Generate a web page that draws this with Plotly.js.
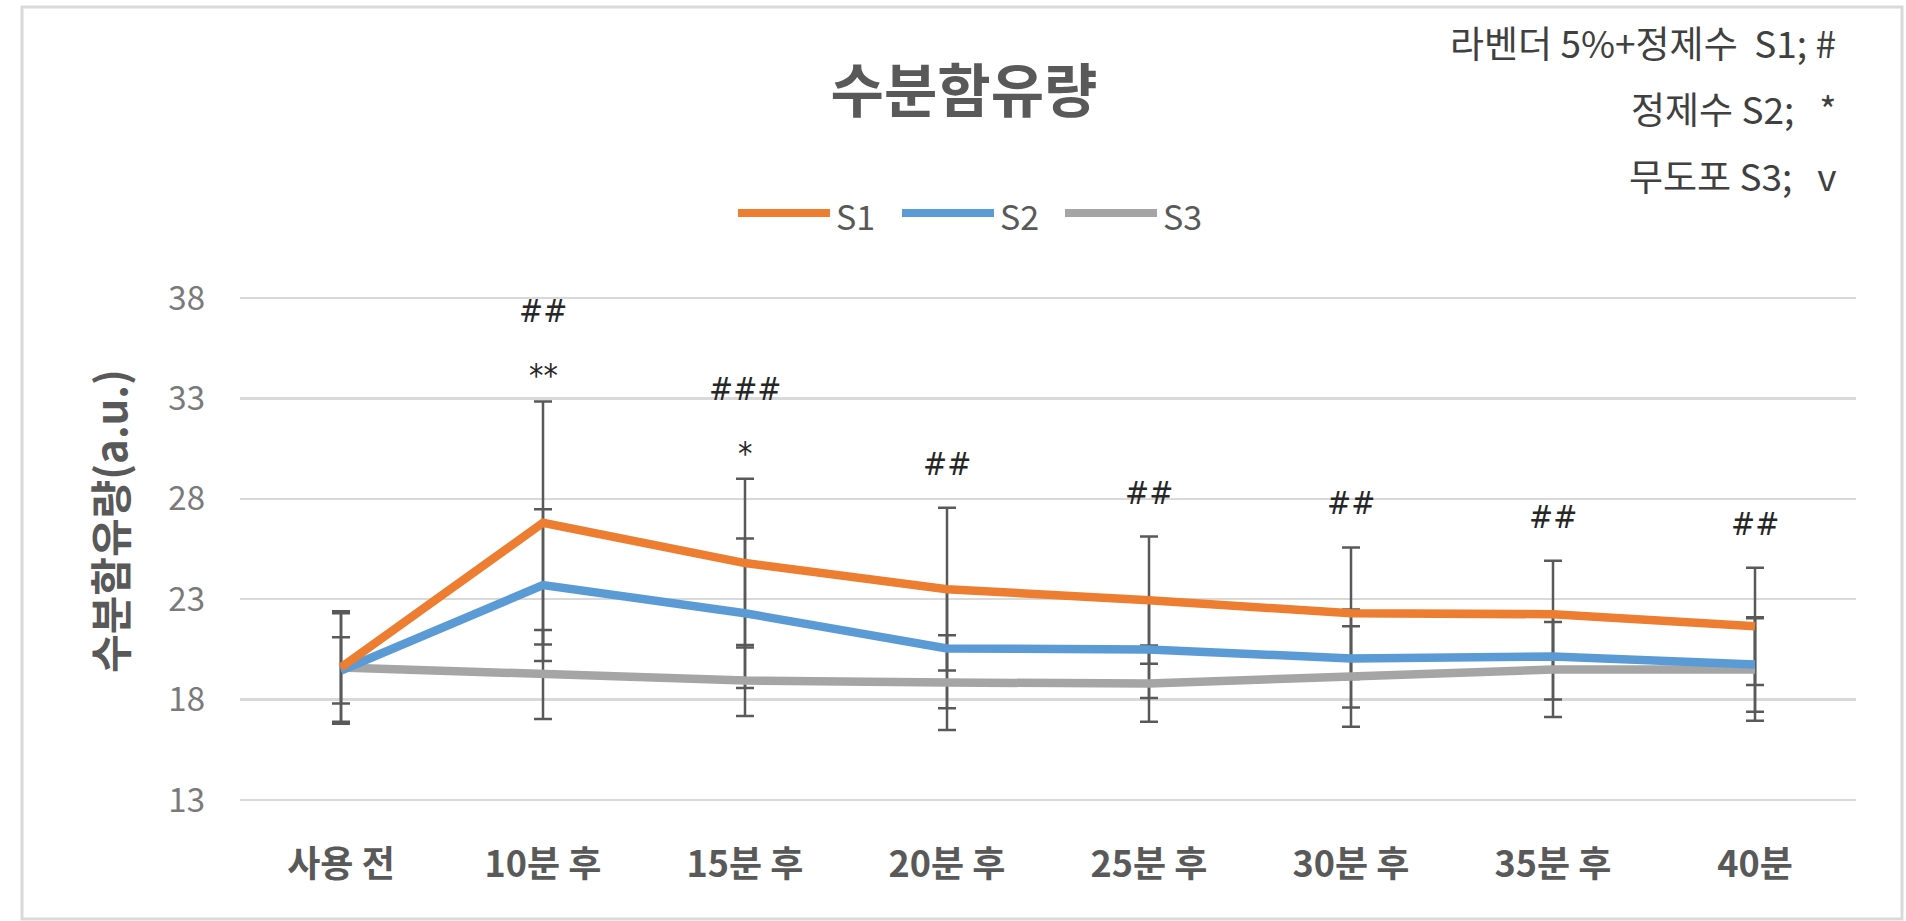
<!DOCTYPE html>
<html>
<head>
<meta charset="utf-8">
<script src="https://cdn.plot.ly/plotly-3.0.1.min.js"></script>
<style>html,body{margin:0;padding:0;background:#fff;}#chart{width:1906px;height:921px;}</style>
</head>
<body>
<div id="chart"></div>
<script>
// ---- data ----
const categories = ['사용 전', '10분 후', '15분 후', '20분 후', '25분 후', '30분 후', '35분 후', '40분'];
const seriesNames = ['S1', 'S2', 'S3'];
const s1 = [19.6, 26.8, 24.8, 23.5, 22.95, 22.3, 22.25, 21.65];
const s1err = [2.8, 6.05, 4.2, 4.05, 3.17, 3.28, 2.67, 2.92];
const s2 = [19.45, 23.7, 22.3, 20.55, 20.5, 20.05, 20.15, 19.75];
const s2err = [1.65, 3.78, 3.72, 2.98, 2.42, 2.44, 2.14, 2.35];
const s3 = [19.6, 19.25, 18.95, 18.85, 18.8, 19.15, 19.5, 19.5];
const s3err = [2.7, 2.22, 1.77, 2.36, 1.9, 2.5, 2.37, 2.55];
const sigHash = ['', '##', '###', '##', '##', '##', '##', '##'];
const sigStar = ['', '**', '*', '', '', '', '', ''];
const noteLines = ['라벤더 5%+정제수\u00A0\u00A0S1;\u00A0#', '정제수 S2;\u00A0\u00A0\u00A0*', '무도포 S3;\u00A0\u00A0\u00A0v'];
const chartTitle = '수분함유량';
const yTitle = '수분함유량(a.u.)';

// ---- styles ----
const colors = ['#ED7D31', '#5B9BD5', '#A5A5A5'];
const W = 1906, H = 921;
const M = {l: 240, r: 50, t: 296, b: 119};
const PW = W - M.l - M.r, PH = H - M.t - M.b;
const px = x => (x - M.l) / PW;
const py = y => (H - M.b - y) / PH;
const KR = '"Noto Sans CJK KR", "Noto Sans", sans-serif';
const SYM = '"DejaVu Sans Condensed", sans-serif';

const vals = [s1, s2, s3];
const errs = [s1err, s2err, s3err];

const traces = [];
// error bars first (beneath lines)
for (let k = 0; k < 3; k++) {
  traces.push({
    x: categories, y: vals[k], type: 'scatter', mode: 'markers',
    marker: {size: 1, color: 'rgba(0,0,0,0)'},
    error_y: {type: 'data', array: errs[k], visible: true, color: '#595959', thickness: 2.5, width: 9},
    showlegend: false, hoverinfo: 'skip'
  });
}
// lines, drawn in reverse so S1 is on top
for (let k = 2; k >= 0; k--) {
  traces.push({
    x: categories, y: vals[k], type: 'scatter', mode: 'lines', name: seriesNames[k],
    line: {color: colors[k], width: 8.5},
    showlegend: false, hoverinfo: 'skip'
  });
}

const annotations = [];
const shapes = [];
// significance labels
for (let i = 0; i < categories.length; i++) {
  const top = s1[i] + s1err[i];
  const hasStar = sigStar[i] !== '';
  if (hasStar) {
    annotations.push({x: categories[i], y: top, xref: 'x', yref: 'y', text: sigStar[i], showarrow: false,
      yanchor: 'middle', yshift: 26, font: {family: SYM, size: 32, color: '#262626'}});
  }
  if (sigHash[i] !== '') {
    annotations.push({x: categories[i], y: top, xref: 'x', yref: 'y', text: sigHash[i], showarrow: false,
      yanchor: 'middle', yshift: hasStar ? 90 : 44, font: {family: SYM, size: 32, color: '#262626'}});
  }
}
// notes top right
const noteY = [42, 108, 175];
noteLines.forEach((t, i) => {
  annotations.push({x: px(1838), y: py(noteY[i]), xref: 'paper', yref: 'paper', text: t, showarrow: false,
    xanchor: 'right', yanchor: 'middle', font: {family: KR, size: 37, color: '#404040'}});
});
// y-axis title
annotations.push({x: px(108), y: py(521), xref: 'paper', yref: 'paper', text: '<b>' + yTitle + '</b>', showarrow: false,
  textangle: -90, xanchor: 'center', yanchor: 'middle', font: {family: KR, size: 42, color: '#595959'}});
// custom legend (long line samples)
const legX = [738, 902, 1065];
seriesNames.forEach((n, k) => {
  shapes.push({type: 'line', xref: 'paper', yref: 'paper', x0: px(legX[k]), x1: px(legX[k] + 92), y0: py(213), y1: py(213),
    line: {color: colors[k], width: 8}});
  annotations.push({x: px(legX[k] + 96), y: py(215), xref: 'paper', yref: 'paper', text: n, showarrow: false,
    xanchor: 'left', yanchor: 'middle', font: {family: KR, size: 34, color: '#595959'}});
});
// outer border
shapes.push({type: 'rect', xref: 'paper', yref: 'paper', x0: px(22), x1: px(1902), y0: py(919), y1: py(7),
  line: {color: '#d9d9d9', width: 3}, fillcolor: 'rgba(0,0,0,0)', layer: 'below'});

const layout = {
  width: W, height: H,
  margin: M,
  paper_bgcolor: '#ffffff', plot_bgcolor: '#ffffff',
  title: {text: '<b>' + chartTitle + '</b>', xref: 'container', x: 964 / W, xanchor: 'center', y: 1 - 92 / H, yanchor: 'middle',
    font: {family: KR, size: 58, color: '#595959'}},
  showlegend: false,
  xaxis: {
    type: 'category', showgrid: false, zeroline: false, showline: false, ticks: '',
    ticklabelstandoff: 38,
    tickfont: {family: KR, size: 36, color: '#595959', weight: 'bold'},
    range: [-0.5, categories.length - 0.5], fixedrange: true
  },
  yaxis: {
    range: [12.9, 38.1], tick0: 13, dtick: 5, showgrid: true, gridcolor: '#d9d9d9', gridwidth: 2.5,
    zeroline: false, showline: false, ticks: '', ticklabelstandoff: 34,
    tickfont: {family: KR, size: 33, color: '#7a7a7a'},
    fixedrange: true
  },
  annotations: annotations,
  shapes: shapes
};

Plotly.newPlot('chart', traces, layout, {displayModeBar: false, staticPlot: true});
</script>
</body>
</html>
